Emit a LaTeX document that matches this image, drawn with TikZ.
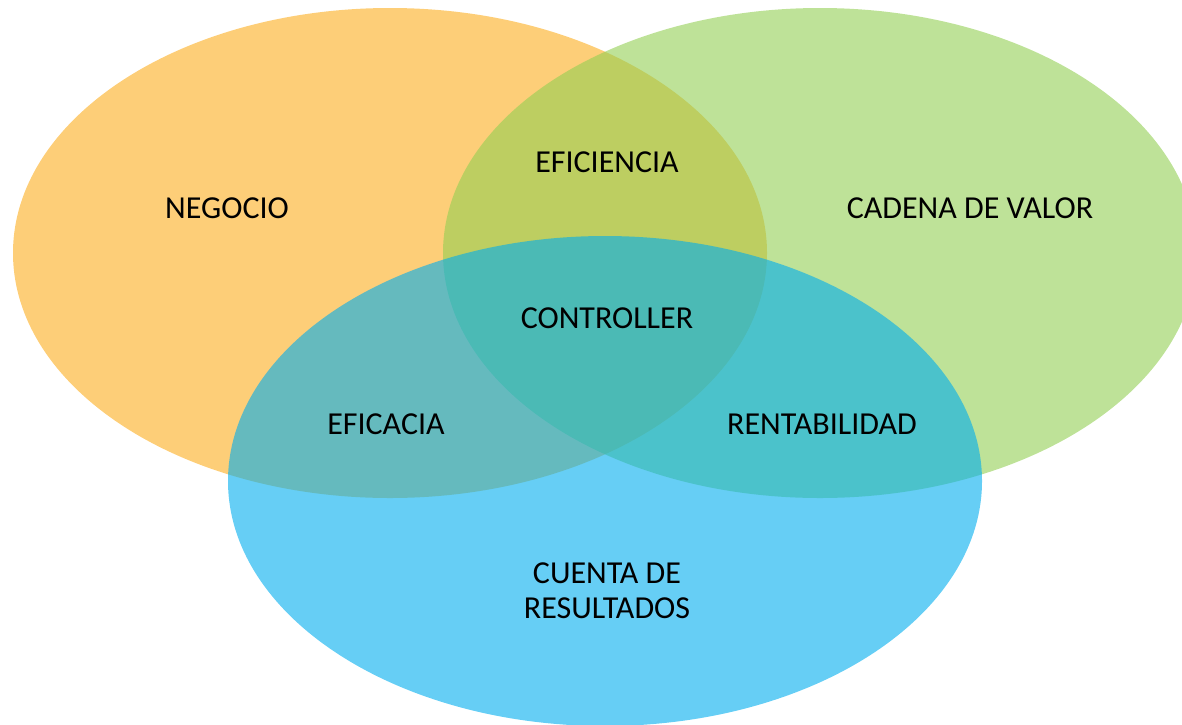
\documentclass[tikz,border=0pt]{standalone}
\usepackage{fontspec}
\setmainfont{Carlito}
\definecolor{negocio}{RGB}{252,173,30}
\definecolor{cadena}{RGB}{147,207,83}
\definecolor{cuenta}{RGB}{0,173,238}
\begin{document}
\begin{tikzpicture}[x=1pt, y=-1pt, set/.style={fill opacity=0.6}, txt/.style={font=\fontsize{32}{35}\selectfont, align=center}]
		\clip (0,0) rectangle (1182,724);
		% Sets
		\fill[set, negocio] (390,253) ellipse [x radius=377pt, y radius=245pt];
		\fill[set, cadena] (820,253) ellipse [x radius=377pt, y radius=245pt];
		\fill[set, cuenta] (605,481) ellipse [x radius=377pt, y radius=245pt];
		% Labels
		\node[txt] (Negocio) at (227,208) {NEGOCIO};
		\node[txt] (Cadena) at (970,208) {CADENA DE VALOR};
		\node[txt] (Eficiencia) at (607,162) {EFICIENCIA};
		\node[txt] (Controller) at (607,318) {CONTROLLER};
		\node[txt] (Eficacia) at (386,424) {EFICACIA};
		\node[txt] (Rentabilidad) at (822,424) {RENTABILIDAD};
		\node[txt] (Cuenta) at (607,591) {CUENTA DE\\RESULTADOS};
	\end{tikzpicture}
\end{document}
